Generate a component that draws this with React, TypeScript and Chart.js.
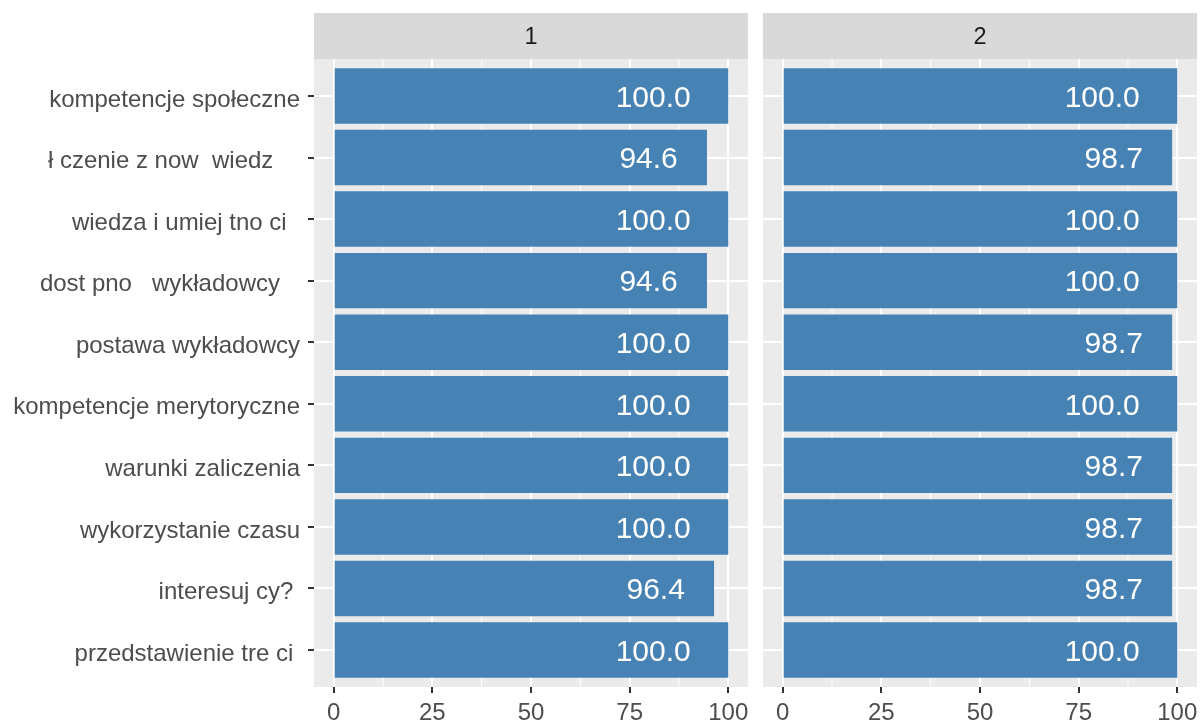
import React, { useEffect, useRef } from "react";
import { Chart, registerables } from "chart.js";
Chart.register(...registerables);

// Categories (top to bottom) as shown in the reference (missing glyphs appear as blanks)
const categories = [
  "kompetencje społeczne",
  "ł czenie z now  wiedz    ",
  "wiedza i umiej tno ci  ",
  "dost pno   wykładowcy   ",
  "postawa wykładowcy",
  "kompetencje merytoryczne",
  "warunki zaliczenia",
  "wykorzystanie czasu",
  "interesuj cy? ",
  "przedstawienie tre ci ",
];
const panelLabels = ["1", "2"];
const values1 = [100.0, 94.6, 100.0, 94.6, 100.0, 100.0, 100.0, 100.0, 96.4, 100.0];
const values2 = [100.0, 98.7, 100.0, 100.0, 98.7, 100.0, 98.7, 98.7, 98.7, 100.0];
const xTicks = [0, 25, 50, 75, 100];
const xMinorTicks = [12.5, 37.5, 62.5, 87.5];

const FONT = "'Liberation Sans', Arial, Helvetica, sans-serif";
const AXIS_SIZE = 24;
const STRIP_SIZE = 23.5;
const LABEL_SIZE = 30;
const STRIP_TOP = 13;
const PANEL_TOP = 59;
const PANEL_BOTTOM = 687;
const H = 721;

const ggPlugin = {
  id: "ggpanel",
  beforeDraw(chart: any, _args: any, opts: any) {
    const { ctx, chartArea: a, scales } = chart;
    ctx.save();
    ctx.fillStyle = "#EBEBEB";
    ctx.fillRect(a.left, a.top, a.right - a.left, a.bottom - a.top);
    ctx.strokeStyle = "#FFFFFF";
    ctx.lineWidth = 1;
    for (const v of xMinorTicks) {
      const x = scales.x.getPixelForValue(v);
      ctx.beginPath();
      ctx.moveTo(x, a.top);
      ctx.lineTo(x, a.bottom);
      ctx.stroke();
    }
    ctx.fillStyle = "#D9D9D9";
    ctx.fillRect(a.left, STRIP_TOP, a.right - a.left, a.top - STRIP_TOP);
    ctx.fillStyle = "#1A1A1A";
    ctx.font = `${STRIP_SIZE}px ${FONT}`;
    ctx.textAlign = "center";
    ctx.textBaseline = "alphabetic";
    ctx.fillText(opts.label, (a.left + a.right) / 2, (STRIP_TOP + a.top) / 2 + 0.358 * STRIP_SIZE);
    ctx.restore();
  },
  afterDatasetsDraw(chart: any) {
    const { ctx } = chart;
    const meta = chart.getDatasetMeta(0);
    const data = chart.data.datasets[0].data as any[];
    ctx.save();
    ctx.font = `${LABEL_SIZE}px ${FONT}`;
    ctx.fillStyle = "#FFFFFF";
    ctx.textAlign = "center";
    ctx.textBaseline = "alphabetic";
    meta.data.forEach((bar: any, i: number) => {
      const t = Number(data[i].x).toFixed(1);
      const w = ctx.measureText(t).width;
      ctx.fillText(t, bar.x - w, bar.y + 0.358 * LABEL_SIZE);
    });
    ctx.restore();
  },
};

function makeConfig(values: number[], label: string, showY: boolean, padRight: number): any {
  return {
    type: "bar",
    data: {
      datasets: [
        {
          data: values.map((v, i) => ({ x: v, y: i + 1 })),
          backgroundColor: "#4682B4",
          borderWidth: 0,
          barPercentage: 0.9,
          categoryPercentage: 1.0,
        },
      ],
    },
    plugins: [ggPlugin],
    options: {
      indexAxis: "y",
      responsive: false,
      animation: false,
      devicePixelRatio: 1,
      layout: { padding: { top: PANEL_TOP, right: padRight, left: 0, bottom: 0 } },
      plugins: {
        legend: { display: false },
        tooltip: { enabled: false },
        ggpanel: { label },
      },
      scales: {
        x: {
          type: "linear",
          min: -5,
          max: 105,
          offset: false,
          border: { display: false },
          grid: {
            offset: false,
            color: "#FFFFFF",
            lineWidth: 2,
            drawTicks: true,
            tickLength: 6,
            tickColor: "#333333",
            tickWidth: 2,
          },
          ticks: {
            color: "#4D4D4D",
            font: { family: FONT, size: AXIS_SIZE },
            padding: 6,
            maxRotation: 0,
          },
          afterBuildTicks: (s: any) => {
            s.ticks = xTicks.map((v) => ({ value: v }));
          },
          afterFit: (s: any) => {
            s.height = H - PANEL_BOTTOM;
            s.paddingLeft = 0;
            s.paddingRight = 0;
          },
        },
        y: {
          type: "linear",
          min: 0.4,
          max: 10.6,
          reverse: true,
          offset: false,
          border: { display: false },
          grid: {
            offset: false,
            color: "#FFFFFF",
            lineWidth: 2,
            drawTicks: showY,
            tickLength: 6,
            tickColor: "#333333",
            tickWidth: 2,
          },
          ticks: {
            display: showY,
            color: "#4D4D4D",
            font: { family: FONT, size: AXIS_SIZE, lineHeight: 8 / AXIS_SIZE },
            padding: 8,
            // empty first line nudges the label down to sit like ggplot's
            callback: (v: any) => ["", categories[Math.round(v) - 1] ?? ""],
          },
          afterBuildTicks: (s: any) => {
            s.ticks = categories.map((_c, i) => ({ value: i + 1 }));
          },
          afterFit: (s: any) => {
            s.width = showY ? 314 : 0;
            s.paddingTop = 0;
            s.paddingBottom = 0;
          },
        },
      },
    },
  };
}

function Panel(props: { values: number[]; label: string; showY: boolean; left: number; width: number; padRight: number }) {
  const ref = useRef<HTMLCanvasElement | null>(null);
  useEffect(() => {
    if (!ref.current) return;
    const chart = new Chart(ref.current, makeConfig(props.values, props.label, props.showY, props.padRight));
    return () => chart.destroy();
  }, []);
  return (
    <canvas
      ref={ref}
      width={props.width}
      height={H}
      style={{ position: "absolute", left: props.left, top: 0, width: props.width, height: H }}
    />
  );
}

export default function App() {
  return (
    <div style={{ position: "absolute", left: 0, top: 0, width: 1200, height: H, background: "#FFFFFF", overflow: "hidden" }}>
      <Panel values={values1} label={panelLabels[0]} showY={true} left={0} width={750} padRight={2} />
      <Panel values={values2} label={panelLabels[1]} showY={false} left={763} width={437} padRight={3} />
    </div>
  );
}
